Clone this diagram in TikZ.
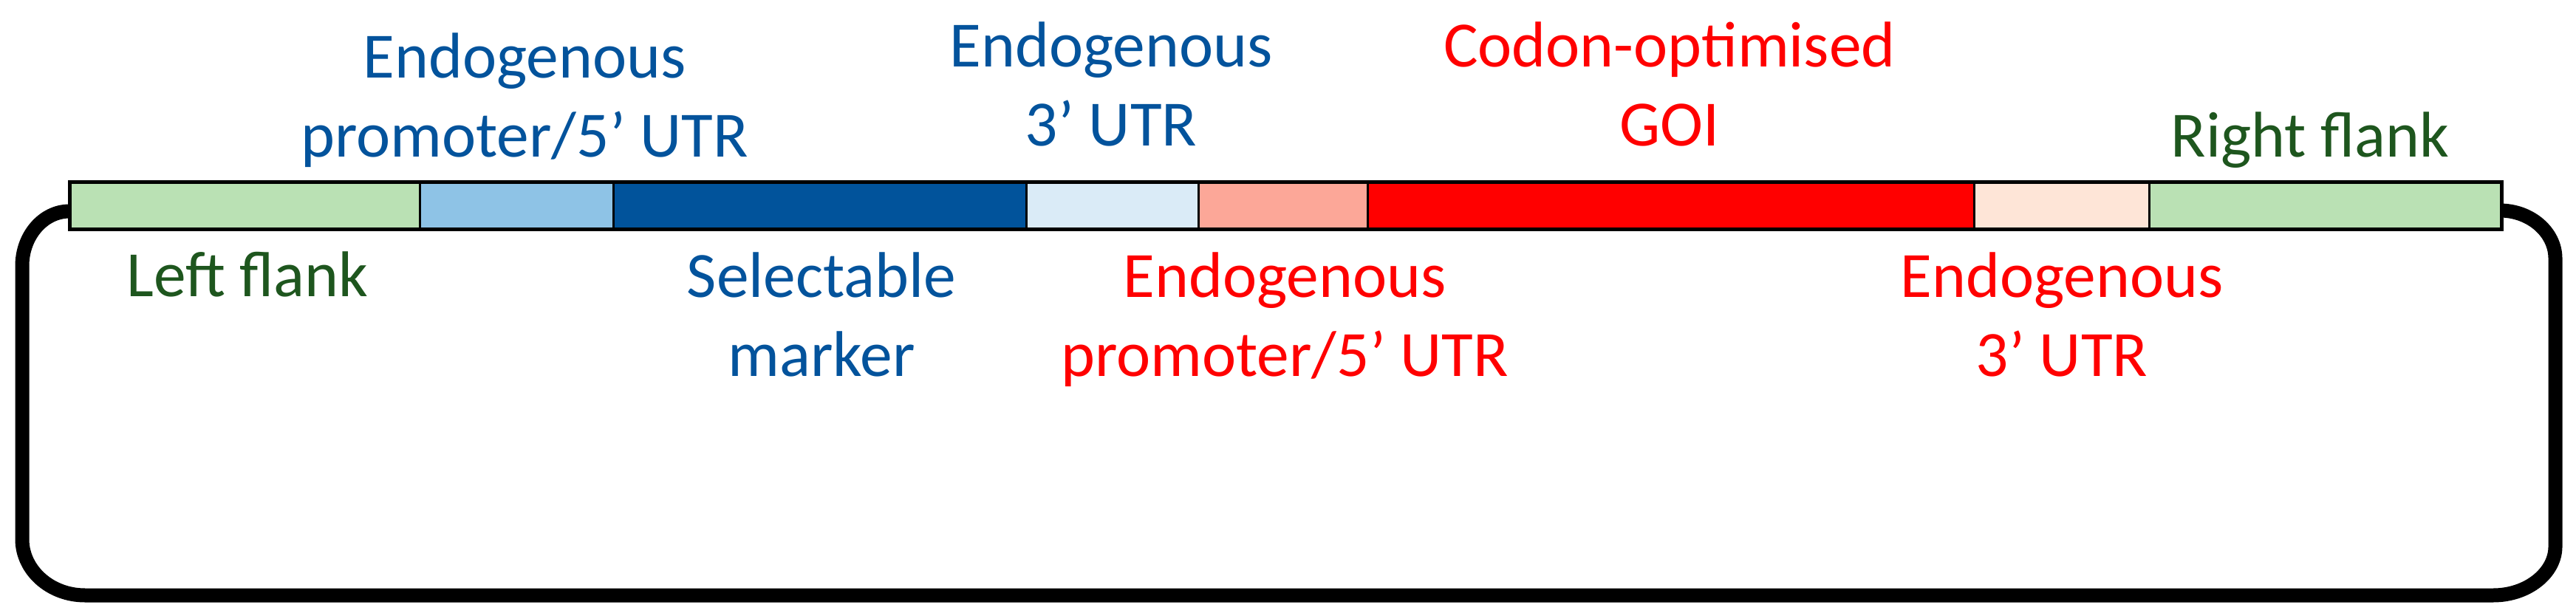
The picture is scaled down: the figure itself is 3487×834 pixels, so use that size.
\documentclass[tikz,border=0pt]{standalone}
\usepackage{fontspec}
\setmainfont{Carlito}
\usetikzlibrary{calc}
\definecolor{txtblue}{HTML}{03539C}
\definecolor{txtgreen}{HTML}{1E561E}
\definecolor{txtred}{HTML}{FF0000}
\definecolor{flankgreen}{HTML}{BAE1B4}
\definecolor{lightblue}{HTML}{8EC3E6}
\definecolor{darkblue}{HTML}{01539B}
\definecolor{paleblue}{HTML}{DAEBF7}
\definecolor{salmon}{HTML}{FCA798}
\definecolor{peach}{HTML}{FEE5D7}
\begin{document}
\begin{tikzpicture}[x=1pt,y=-1pt,
  seg/.style={draw=black, line width=2.5pt, inner sep=0pt, minimum height=62pt, anchor=west},
  lbl/.style={align=center, anchor=base, inner sep=0pt, font=\fontsize{87.5}{107}\selectfont},
  loopline/.style={line width=19pt, black},
  barframe/.style={draw=black, line width=5pt}]
\useasboundingbox (0,0) rectangle (3487,834);
% loop
\coordinate (la) at (94,286);
\coordinate (ra) at (3384,285);
\draw[loopline] (la) .. controls (58.7,286) and (30,319) .. (30,360) -- (30,730)
  .. controls (30,772) and (68,806) .. (115,806) -- (3375,806)
  .. controls (3421,806) and (3459,776) .. (3459,740) -- (3459,350)
  .. controls (3459,314) and (3425,285) .. (ra);
% bar segments
\node[seg, fill=flankgreen, minimum width=473pt] (lf) at (94,278.5) {};
\node[seg, fill=lightblue, minimum width=262pt] (p1) at (567,278.5) {};
\node[seg, fill=darkblue, minimum width=559pt] (sm) at (829,278.5) {};
\node[seg, fill=paleblue, minimum width=233pt] (u1) at (1388,278.5) {};
\node[seg, fill=salmon, minimum width=229pt] (p2) at (1621,278.5) {};
\node[seg, fill=red, minimum width=821pt] (goi) at (1850,278.5) {};
\node[seg, fill=peach, minimum width=237pt] (u2) at (2671,278.5) {};
\node[seg, fill=flankgreen, minimum width=476pt] (rf) at (2908,278.5) {};
\draw[barframe] (lf.north west) rectangle (rf.south east);
% labels above (y = baseline of last line)
\node[lbl, text=txtblue] (tp1) at (710,213) {Endogenous\\promoter/5’ UTR};
\node[lbl, text=txtblue] (tu1) at (1504,198) {Endogenous\\3’ UTR};
\node[lbl, text=txtred] (tgoi) at (2260,198) {Codon-optimised\\GOI};
\node[lbl, text=txtgreen] (trf) at (3127,213) {Right flank};
% labels below
\node[lbl, text=txtgreen] (tlf) at (335,401) {Left flank};
\node[lbl, text=txtblue] (tsm) at (1112,509) {Selectable\\marker};
\node[lbl, text=txtred] (tp2) at (1739,509) {Endogenous\\promoter/5’ UTR};
\node[lbl, text=txtred] (tu2) at (2791,509) {Endogenous\\3’ UTR};
\end{tikzpicture}
\end{document}
